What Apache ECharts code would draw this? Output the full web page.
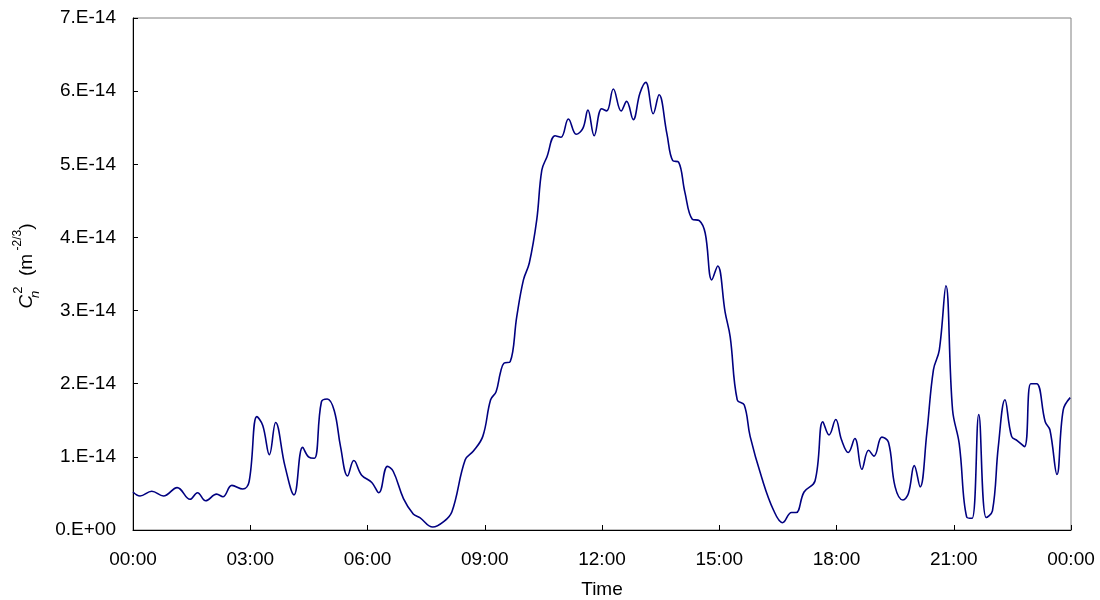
<!DOCTYPE html>
<html>
<head>
<meta charset="utf-8">
<script src="https://cdn.jsdelivr.net/npm/echarts@6/dist/echarts.min.js"></script>
<style>html,body{margin:0;padding:0;background:#fff;}#c{width:1100px;height:600px;}</style>
</head>
<body>
<div id="c"></div>
<script>
// time of day in hours
const hours = [0.00,0.18,0.48,0.78,1.13,1.46,1.65,1.86,2.14,2.30,2.53,2.81,2.97,3.17,3.32,3.49,3.65,3.89,4.12,4.34,4.49,4.64,4.82,4.97,5.15,5.31,5.49,5.65,5.85,6.11,6.29,6.51,6.66,6.92,7.17,7.34,7.67,7.94,8.16,8.50,8.71,8.95,9.15,9.29,9.40,9.49,9.65,9.82,9.99,10.14,10.33,10.46,10.59,10.80,10.95,11.14,11.34,11.51,11.64,11.80,11.99,12.12,12.29,12.49,12.63,12.80,12.97,13.12,13.31,13.46,13.66,13.81,13.96,14.12,14.31,14.49,14.64,14.81,14.96,15.15,15.28,15.46,15.64,15.79,16.09,16.39,16.62,16.85,16.97,17.17,17.45,17.65,17.81,17.98,18.13,18.30,18.47,18.65,18.82,18.96,19.16,19.33,19.50,19.70,19.84,19.99,20.14,20.31,20.48,20.63,20.80,20.97,21.14,21.33,21.47,21.64,21.83,21.99,22.14,22.31,22.48,22.63,22.81,22.97,23.12,23.34,23.46,23.64,23.80,23.98];
// Cn2 in units of 1e-14 m^-2/3
const cn2 = [0.52,0.465,0.53,0.465,0.58,0.42,0.51,0.40,0.49,0.455,0.61,0.56,0.66,1.55,1.43,1.03,1.47,0.87,0.48,1.13,1.00,0.98,1.75,1.79,1.63,1.14,0.74,0.95,0.75,0.65,0.51,0.87,0.80,0.43,0.22,0.17,0.04,0.11,0.25,0.96,1.08,1.28,1.78,1.89,2.15,2.28,2.30,2.92,3.42,3.65,4.24,4.92,5.10,5.39,5.37,5.62,5.41,5.49,5.74,5.39,5.76,5.73,6.03,5.73,5.86,5.61,5.97,6.12,5.69,5.95,5.42,5.05,5.03,4.62,4.25,4.23,4.06,3.42,3.61,2.98,2.64,1.78,1.71,1.28,0.71,0.27,0.10,0.24,0.24,0.52,0.67,1.48,1.30,1.51,1.23,1.06,1.25,0.83,1.09,1.01,1.27,1.20,0.59,0.41,0.50,0.88,0.59,1.32,2.19,2.46,3.34,1.64,1.18,0.18,0.16,1.58,0.17,0.26,1.14,1.78,1.28,1.22,1.14,2.00,2.00,1.48,1.37,0.76,1.64,1.81];
const xTickLabels = ['00:00','03:00','06:00','09:00','12:00','15:00','18:00','21:00','00:00'];
const yTickLabels = ['0.E+00','1.E-14','2.E-14','3.E-14','4.E-14','5.E-14','6.E-14','7.E-14'];

const data = hours.map((h, i) => [h, cn2[i]]);
const font = 'Liberation Sans, Arial, sans-serif';
const chart = echarts.init(document.getElementById('c'), null, {renderer: 'canvas'});
chart.setOption({
  animation: false,
  backgroundColor: '#fff',
  grid: {left: 133, right: 29, top: 18, bottom: 70, show: true, borderColor: '#808080', borderWidth: 1,
         containLabel: false, outerBoundsMode: 'none'},
  xAxis: {
    type: 'value', min: 0, max: 24, interval: 3,
    name: 'Time', nameLocation: 'middle', nameGap: 50,
    nameTextStyle: {fontFamily: font, fontSize: 19, color: '#000'},
    axisLine: {show: true, lineStyle: {color: '#000', width: 1}},
    axisTick: {show: true, inside: true, length: 5, lineStyle: {color: '#000'}},
    axisLabel: {margin: 20, fontFamily: font, fontSize: 19, color: '#000',
      formatter: v => xTickLabels[Math.round(v / 3)]},
    splitLine: {show: false}
  },
  yAxis: {
    type: 'value', min: 0, max: 7, interval: 1,
    name: '{i|C}{sub|n}{sup|2}{t|  (m}{sup2| -2/3}{t|)}',
    nameLocation: 'middle', nameGap: 91, nameRotate: 90,
    nameTextStyle: {
      fontFamily: font, fontSize: 19, color: '#000', padding: [0, 0, 0, 16],
      rich: {
        i: {fontFamily: font, fontSize: 19, fontStyle: 'italic', lineHeight: 30, verticalAlign: 'middle'},
        sub: {fontFamily: font, fontSize: 13, fontStyle: 'italic', verticalAlign: 'bottom', width: 1, lineHeight: 18},
        sup: {fontFamily: font, fontSize: 13, verticalAlign: 'top', lineHeight: 16},
        sup2: {fontFamily: font, fontSize: 12, verticalAlign: 'top', lineHeight: 16},
        t: {fontFamily: font, fontSize: 19, lineHeight: 30, verticalAlign: 'middle'}
      }
    },
    axisLine: {show: true, lineStyle: {color: '#000', width: 1}},
    axisTick: {show: true, inside: true, length: 5, lineStyle: {color: '#000'}},
    axisLabel: {margin: 17, fontFamily: font, fontSize: 19, color: '#000',
      formatter: v => yTickLabels[Math.round(v)]},
    splitLine: {show: false}
  },
  series: [{
    type: 'line', data: data, smooth: 0.4, showSymbol: false,
    lineStyle: {color: '#000080', width: 1.6}
  }]
});
</script>
</body>
</html>
